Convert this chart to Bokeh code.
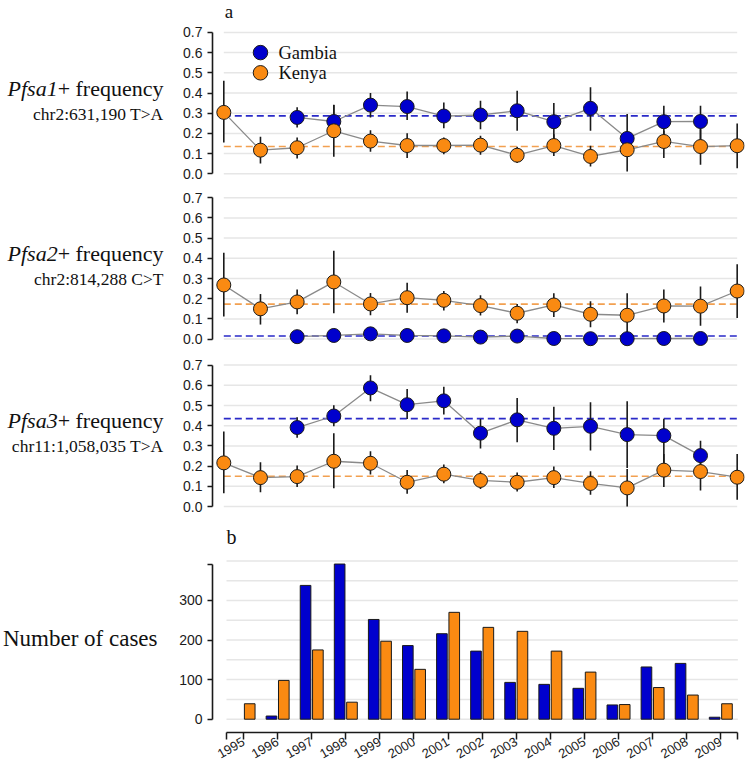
import math
from bokeh.plotting import figure
from bokeh.layouts import row, column
from bokeh.models import Range1d, FixedTicker
from bokeh.core.properties import value
from bokeh.embed import file_html
from bokeh.resources import INLINE

nan = float("nan")

# ---------------- data ----------------
years = [1995, 1996, 1997, 1998, 1999, 2000, 2001, 2002, 2003, 2004, 2005, 2006, 2007, 2008, 2009]
year_labels = [str(y) for y in years]

genes = ["Pfsa1", "Pfsa2", "Pfsa3"]
snps = ["chr2:631,190 T>A", "chr2:814,288 C>T", "chr11:1,058,035 T>A"]
countries = ["Gambia", "Kenya"]

# Pfsa1
gam1 = [nan, nan, 0.279, 0.259, 0.340, 0.333, 0.286, 0.291, 0.312, 0.258, 0.324, 0.175, 0.258, 0.259, nan]
gam1_lo = [nan, nan, 0.229, 0.180, 0.279, 0.266, 0.225, 0.220, 0.213, 0.164, 0.213, 0.110, 0.183, 0.147, nan]
gam1_hi = [nan, nan, 0.329, 0.342, 0.400, 0.408, 0.353, 0.362, 0.411, 0.350, 0.428, 0.296, 0.337, 0.337, nan]
ken1 = [0.304, 0.117, 0.129, 0.213, 0.162, 0.140, 0.140, 0.142, 0.092, 0.140, 0.086, 0.119, 0.160, 0.135, 0.139]
ken1_lo = [0.155, 0.051, 0.076, 0.084, 0.109, 0.078, 0.097, 0.094, 0.053, 0.088, 0.036, 0.012, 0.078, 0.045, 0.028]
ken1_hi = [0.461, 0.183, 0.180, 0.340, 0.216, 0.201, 0.180, 0.188, 0.134, 0.196, 0.139, 0.196, 0.213, 0.221, 0.249]
gam1_mean = 0.287
ken1_mean = 0.135

# Pfsa2
gam2 = [nan, nan, 0.012, 0.018, 0.026, 0.018, 0.016, 0.010, 0.015, 0.003, 0.002, 0.002, 0.003, 0.003, nan]
gam2_lo = [nan, nan, 0.004, 0.008, 0.013, 0.008, 0.008, 0.003, 0.006, 0.000, 0.000, 0.000, 0.000, 0.000, nan]
gam2_hi = [nan, nan, 0.024, 0.032, 0.045, 0.032, 0.028, 0.020, 0.028, 0.012, 0.010, 0.012, 0.012, 0.012, nan]
ken2 = [0.268, 0.150, 0.184, 0.283, 0.174, 0.205, 0.192, 0.166, 0.128, 0.169, 0.123, 0.118, 0.164, 0.163, 0.238]
ken2_lo = [0.112, 0.072, 0.123, 0.128, 0.118, 0.131, 0.141, 0.117, 0.079, 0.110, 0.059, 0.013, 0.082, 0.066, 0.104]
ken2_hi = [0.427, 0.223, 0.246, 0.437, 0.228, 0.279, 0.238, 0.217, 0.174, 0.227, 0.187, 0.227, 0.246, 0.260, 0.371]
gam2_mean = 0.015
ken2_mean = 0.173

# Pfsa3
gam3 = [nan, nan, 0.391, 0.448, 0.587, 0.504, 0.523, 0.363, 0.429, 0.387, 0.397, 0.356, 0.351, 0.252, nan]
gam3_lo = [nan, nan, 0.340, 0.397, 0.521, 0.433, 0.455, 0.287, 0.318, 0.280, 0.277, 0.190, 0.186, 0.186, nan]
gam3_hi = [nan, nan, 0.442, 0.501, 0.650, 0.582, 0.593, 0.433, 0.537, 0.494, 0.516, 0.521, 0.435, 0.326, nan]
ken3 = [0.216, 0.143, 0.148, 0.224, 0.214, 0.120, 0.160, 0.129, 0.120, 0.143, 0.114, 0.092, 0.180, 0.173, 0.145]
ken3_lo = [0.066, 0.071, 0.096, 0.090, 0.158, 0.063, 0.115, 0.087, 0.074, 0.092, 0.058, 0.000, 0.096, 0.079, 0.033]
ken3_hi = [0.371, 0.219, 0.203, 0.363, 0.274, 0.181, 0.208, 0.175, 0.168, 0.198, 0.175, 0.186, 0.260, 0.244, 0.260]
gam3_mean = 0.435
ken3_mean = 0.150

# number of cases
gam_n = [None, 8, 338, 392, 252, 186, 216, 172, 93, 88, 78, 36, 132, 141, 5]
ken_n = [39, 98, 175, 43, 197, 126, 270, 232, 222, 172, 119, 37, 80, 61, 39]

freq_ticks = [0.0, 0.1, 0.2, 0.3, 0.4, 0.5, 0.6, 0.7]
freq_tick_labels = ["0.0", "0.1", "0.2", "0.3", "0.4", "0.5", "0.6", "0.7"]
count_ticks = [0, 100, 200, 300]
count_tick_labels = ["0", "100", "200", "300"]
count_grid = [0, 50, 100, 150, 200, 250, 300, 350, 400]

# ---------------- style / layout ----------------
GAM_COL = "#0000CD"
KEN_COL = "#FA8A12"
GAM_DASH = "#2A2AC8"
KEN_DASH = "#F2A050"
GRID_COL = "#E6E6E6"
INK = "#1A1A1A"
SERIF = "Liberation Serif"
SANS = "Liberation Sans"

TOTAL_H = 767
LABEL_W = 174
CHART_W = 571
FRAME_L = 38
FRAME_R = 1
FRAME_W = CHART_W - FRAME_L - FRAME_R
PAD_L = 11.3          # px between frame left edge and first year
PX_YEAR = 36.67
PPU = 202.0           # px per frequency unit
XS = years[0] - PAD_L / PX_YEAR
XE = XS + FRAME_W / PX_YEAR

slots = list(range(len(years)))
PX_SLOT = 34.09
PAD_LB = 14.0
US = -0.5 - PAD_LB / PX_SLOT
UE = US + FRAME_W / PX_SLOT
BAR_W = 0.312
BAR_OFF = 0.181


def style_yaxis(p, ticks, labels, bounds):
    ax = p.yaxis[0]
    ax.ticker = FixedTicker(ticks=ticks)
    ax.major_label_overrides = {t: l for t, l in zip(ticks, labels)}
    ax.bounds = bounds
    ax.axis_line_width = 1.6
    ax.axis_line_color = INK
    ax.major_tick_line_width = 1.5
    ax.major_tick_line_color = INK
    ax.major_tick_out = 5
    ax.major_tick_in = 0
    ax.minor_tick_line_color = None
    ax.major_label_text_font = SANS
    ax.major_label_text_font_size = "14px"
    ax.major_label_text_color = "#1A1A1A"
    ax.major_label_standoff = 5


def freq_panel(h, z, gam, gam_lo, gam_hi, ken, ken_lo, ken_hi, gam_mean, ken_mean, first=False):
    p = figure(width=CHART_W, height=h, x_range=Range1d(XS, XE),
               y_range=Range1d(-(h - z) / PPU, z / PPU),
               output_backend="svg", toolbar_location=None, title=None,
               x_axis_location=None, y_axis_location="left",
               min_border_left=FRAME_L, min_border_right=FRAME_R,
               min_border_top=0, min_border_bottom=0)
    p.grid.visible = False
    p.outline_line_color = None
    p.background_fill_color = "white"
    p.border_fill_color = "white"
    style_yaxis(p, freq_ticks, freq_tick_labels, (0, 0.7))

    p.segment(x0=[years[0]] * len(freq_ticks), x1=[years[-1]] * len(freq_ticks),
              y0=freq_ticks, y1=freq_ticks, line_color=GRID_COL, line_width=1.5)
    p.segment(x0=[years[0]], x1=[years[-1]], y0=[gam_mean], y1=[gam_mean],
              line_color=GAM_DASH, line_width=1.6, line_dash="7 4")
    p.segment(x0=[years[0]], x1=[years[-1]], y0=[ken_mean], y1=[ken_mean],
              line_color=KEN_DASH, line_width=1.6, line_dash="7 4")

    for lo, hi in ((gam_lo, gam_hi), (ken_lo, ken_hi)):
        p.segment(x0=years, x1=years, y0=lo, y1=hi, line_color=INK, line_width=1.6)
    for v, col in ((gam, GAM_COL), (ken, KEN_COL)):
        p.line(years, v, line_color="#8A8A8A", line_width=1.3)
        p.scatter(years, v, size=14, fill_color=col, line_color=INK, line_width=1)

    if first:
        p.text(x=[years[0]], y=[(z - 10.5) / PPU], text=["a"], text_font=value(SERIF),
               text_font_size="19px", text_align="left", text_baseline="middle",
               text_color="#111111", x_offset=1)
        # legend
        lx = [years[1], years[1]]
        ly = [0.6, 0.5]
        p.scatter(lx, ly, size=14.5, fill_color=[GAM_COL, KEN_COL], line_color=INK, line_width=1)
        p.text(x=lx, y=ly, text=countries, x_offset=18, text_font=value(SERIF),
               text_font_size="18.5px", text_align="left", text_baseline="middle",
               text_color="#111111")
    return p


f1 = freq_panel(185, 173.3, gam1, gam1_lo, gam1_hi, ken1, ken1_lo, ken1_hi, gam1_mean, ken1_mean, first=True)
f2 = freq_panel(167, 153.6, gam2, gam2_lo, gam2_hi, ken2, ken2_lo, ken2_hi, gam2_mean, ken2_mean)
f3 = freq_panel(168, 154.0, gam3, gam3_lo, gam3_hi, ken3, ken3_lo, ken3_hi, gam3_mean, ken3_mean)

# ---------------- bar panel ----------------
FB_H = 247
FB_BOTTOM = 35
FB_FRAME_H = FB_H - FB_BOTTOM
FB_ZERO = 198.7       # px from frame top to value 0
PPU_B = 0.3958
fb = figure(width=CHART_W, height=FB_H, x_range=Range1d(US, UE),
            y_range=Range1d(-(FB_FRAME_H - FB_ZERO) / PPU_B, FB_ZERO / PPU_B),
            output_backend="svg", toolbar_location=None, title=None,
            min_border_left=FRAME_L, min_border_right=FRAME_R,
            min_border_top=0, min_border_bottom=FB_BOTTOM)
fb.grid.visible = False
fb.outline_line_color = None
top_count = max(max(v for v in gam_n if v is not None), max(ken_n))
style_yaxis(fb, count_ticks + [top_count], count_tick_labels + [""], (0, top_count))

fb.segment(x0=[-0.5] * len(count_grid), x1=[len(years) - 0.5] * len(count_grid),
           y0=count_grid, y1=count_grid, line_color=GRID_COL, line_width=1.5)
fb.vbar(x=[s - BAR_OFF for s in slots], top=[nan if v is None else v for v in gam_n],
        width=BAR_W, fill_color=GAM_COL, line_color=INK, line_width=1)
fb.vbar(x=[s + BAR_OFF for s in slots], top=ken_n, width=BAR_W,
        fill_color=KEN_COL, line_color=INK, line_width=1)
fb.text(x=[-0.5], y=[(FB_ZERO - 16.7) / PPU_B], text=["b"], text_font=value(SERIF),
        text_font_size="20px", text_align="left", text_baseline="middle",
        text_color="#111111")

xa = fb.xaxis[0]
xt = [-0.5] + slots + [len(years) - 0.5]
xa.ticker = FixedTicker(ticks=xt)
ov = {-0.5: "", len(years) - 0.5: ""}
for s, lab in zip(slots, year_labels):
    ov[s] = lab
xa.major_label_overrides = ov
xa.bounds = (-0.5, len(years) - 0.5)
xa.axis_line_width = 1.6
xa.axis_line_color = INK
xa.major_tick_line_width = 1.5
xa.major_tick_line_color = INK
xa.major_tick_out = 7
xa.major_tick_in = 0
xa.minor_tick_line_color = None
xa.major_label_orientation = math.radians(30)
xa.major_label_text_font = SANS
xa.major_label_text_font_size = "13px"
xa.major_label_text_color = "#1A1A1A"
xa.major_label_standoff = 1

# ---------------- left labels ----------------
lab = figure(width=LABEL_W, height=TOTAL_H, x_range=Range1d(0, LABEL_W),
             y_range=Range1d(TOTAL_H, 0), output_backend="svg", toolbar_location=None,
             title=None, x_axis_location=None, y_axis_location=None,
             min_border_left=0, min_border_right=0, min_border_top=0, min_border_bottom=0)
lab.grid.visible = False
lab.outline_line_color = None
line1_y = [87.6, 253.1, 420.3]
line2_y = [113.1, 278.4, 445.1]
RIGHT = 163.0
SPLIT = RIGHT - 4.812 * 22
lab.text(x=[SPLIT] * 3, y=line1_y, text=genes, text_font=value(SERIF), text_font_style="italic",
         text_font_size="22px", text_align="right", text_baseline="middle", text_color="#111111")
lab.text(x=[SPLIT] * 3, y=line1_y, text=["+ frequency"] * 3, text_font=value(SERIF),
         text_font_size="22px", text_align="left", text_baseline="middle", text_color="#111111")
lab.text(x=[RIGHT] * 3, y=line2_y, text=snps, text_font=value(SERIF),
         text_font_size="17.5px", text_align="right", text_baseline="middle", text_color="#111111")
lab.text(x=[157.0], y=[638.2], text=["Number of cases"], text_font=value(SERIF),
         text_font_size="23px", text_align="right", text_baseline="middle", text_color="#111111")

layout = row(lab, column(f1, f2, f3, fb))
open("out.html", "w").write(file_html(layout, INLINE))
